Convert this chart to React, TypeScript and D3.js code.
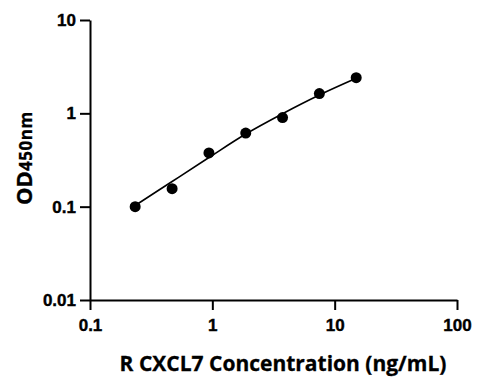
import { useEffect, useRef } from 'react'
import * as d3 from 'd3'

// Standard curve (two-fold dilutions)
const concentrations = [0.234, 0.469, 0.938, 1.875, 3.75, 7.5, 15]
const odValues = [0.1, 0.156, 0.376, 0.615, 0.9, 1.63, 2.41]
const fitValues = [0.103, 0.186, 0.336, 0.6, 0.99, 1.57, 2.37]
const xTicks = [0.1, 1, 10, 100]
const yTicks = [0.01, 0.1, 1, 10]
const xTickLabels = ['0.1', '1', '10', '100']
const yTickLabels = ['0.01', '0.1', '1', '10']

export default function App() {
  const svgRef = useRef<SVGSVGElement>(null)

  useEffect(() => {
    const svg = d3.select(svgRef.current)
    svg.selectAll('*').remove()

    const W = 485
    const H = 391

    const x = d3.scaleLog().domain([0.1, 100]).range([90, 457])
    const y = d3.scaleLog().domain([0.01, 10]).range([300, 20])

    const tickFont = '"Liberation Sans", Arial, sans-serif'
    const titleFont = '"Open Sans", "Noto Sans", sans-serif'

    svg.attr('width', W).attr('height', H)
    svg.append('rect').attr('width', W).attr('height', H).attr('fill', '#fff')

    const styleTicks = (axis: d3.Selection<SVGGElement, unknown, null, undefined>) => {
      axis.select('.domain').attr('stroke', '#000').attr('stroke-width', 2)
      axis.selectAll('.tick line').attr('stroke', '#000').attr('stroke-width', 2)
      axis
        .selectAll('.tick text')
        .attr('fill', '#000')
        .attr('stroke', '#000')
        .attr('stroke-width', 0.4)
        .attr('font-family', tickFont)
        .attr('font-weight', 'bold')
        .attr('font-size', 17)
    }

    // X axis
    const xAxis = svg
      .append('g')
      .attr('transform', 'translate(0,300)')
      .call(
        d3
          .axisBottom(x)
          .tickValues(xTicks)
          .tickSize(10)
          .tickPadding(9)
          .tickSizeOuter(0)
          .tickFormat((_, i) => xTickLabels[i])
      )
    styleTicks(xAxis)

    // Y axis
    const yAxis = svg
      .append('g')
      .attr('transform', 'translate(90,0)')
      .call(
        d3
          .axisLeft(y)
          .tickValues(yTicks)
          .tickSize(10)
          .tickPadding(4)
          .tickSizeOuter(0)
          .tickFormat((_, i) => yTickLabels[i])
      )
    styleTicks(yAxis)

    // Fit curve
    const line = d3
      .line<number>()
      .x((_, i) => x(concentrations[i]))
      .y((d) => y(d))
      .curve(d3.curveCatmullRom)

    svg
      .append('path')
      .datum(fitValues)
      .attr('fill', 'none')
      .attr('stroke', '#000')
      .attr('stroke-width', 1.6)
      .attr('d', line)

    // Points
    svg
      .selectAll('.pt')
      .data(odValues)
      .enter()
      .append('circle')
      .attr('class', 'pt')
      .attr('cx', (_, i) => x(concentrations[i]))
      .attr('cy', (d) => y(d))
      .attr('r', 5.5)
      .attr('fill', '#000')

    // X title
    svg
      .append('text')
      .attr('x', 283)
      .attr('y', 371)
      .attr('text-anchor', 'middle')
      .attr('fill', '#000')
      .attr('stroke', '#000')
      .attr('stroke-width', 0.3)
      .attr('font-family', titleFont)
      .attr('font-weight', 'bold')
      .attr('font-size', 21)
      .text('R CXCL7 Concentration (ng/mL)')

    // Y title
    const yt = svg
      .append('text')
      .attr('transform', 'translate(32,158) rotate(-90)')
      .attr('text-anchor', 'middle')
      .attr('fill', '#000')
      .attr('stroke', '#000')
      .attr('stroke-width', 0.3)
      .attr('font-family', titleFont)
      .attr('font-weight', 'bold')
    yt.append('tspan').attr('font-size', 22).text('OD')
    yt.append('tspan').attr('font-size', 17).attr('letter-spacing', 0.6).text('450nm')
  }, [])

  return <svg ref={svgRef} style={{ display: 'block', position: 'absolute', left: 0, top: 0 }} />
}
